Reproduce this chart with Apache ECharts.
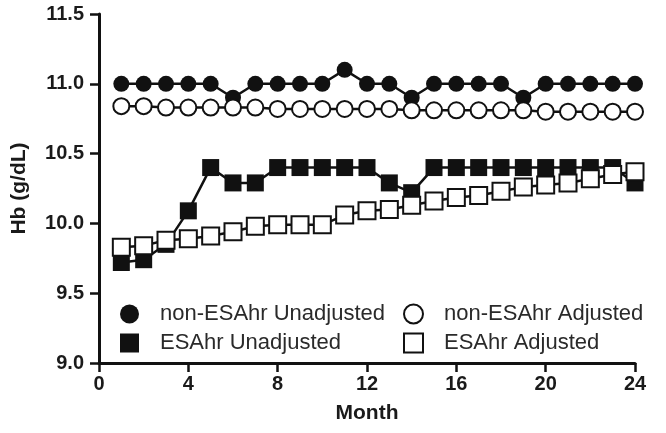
<!DOCTYPE html>
<html>
<head>
<meta charset="utf-8">
<script src="https://cdn.jsdelivr.net/npm/echarts@6/dist/echarts.min.js"></script>
<style>
html,body{margin:0;padding:0;background:#fff;}
#chart{width:666px;height:433px;}
</style>
</head>
<body>
<div id="chart"></div>
<script>
var months = [1,2,3,4,5,6,7,8,9,10,11,12,13,14,15,16,17,18,19,20,21,22,23,24];
var nonEsaUnadj = [11.0,11.0,11.0,11.0,11.0,10.9,11.0,11.0,11.0,11.0,11.1,11.0,11.0,10.9,11.0,11.0,11.0,11.0,10.9,11.0,11.0,11.0,11.0,11.0];
var nonEsaAdj = [10.84,10.84,10.83,10.83,10.83,10.83,10.83,10.82,10.82,10.82,10.82,10.82,10.82,10.81,10.81,10.81,10.81,10.81,10.81,10.80,10.80,10.80,10.80,10.80];
var esaUnadj = [9.72,9.74,9.85,10.09,10.40,10.29,10.29,10.40,10.40,10.40,10.40,10.40,10.29,10.22,10.40,10.40,10.40,10.40,10.40,10.40,10.40,10.40,10.40,10.29];
var esaAdj = [9.83,9.84,9.88,9.89,9.91,9.94,9.98,9.99,9.99,9.99,10.06,10.09,10.10,10.13,10.16,10.185,10.20,10.23,10.26,10.275,10.29,10.32,10.35,10.37];
var seriesNames = ['non-ESAhr Unadjusted','non-ESAhr Adjusted','ESAhr Unadjusted','ESAhr Adjusted'];
var xTicks = [0,4,8,12,16,20,24];
var yTicks = [9.0,9.5,10.0,10.5,11.0,11.5];

function pairs(vals){ return months.map(function(m,i){ return [m, vals[i]]; }); }

var FONT = '"Liberation Sans", Arial, Helvetica, sans-serif';
var filled = {color:'#111', borderColor:'#111', borderWidth:0};
var open = {color:'#fff', borderColor:'#111', borderWidth:2};

function mkSeries(name, vals, symbol, size, style){
  return {
    name: name, type:'line', data: pairs(vals),
    symbol: symbol, symbolSize: size, showAllSymbol:true,
    lineStyle:{color:'#111', width:2.5},
    itemStyle: style,
    emphasis:{disabled:true},
    animation:false
  };
}
function mkLegend(name, icon, style, left, top){
  return {
    data:[{name:name, icon:icon, itemStyle:style}],
    left:left, top:top, padding:0,
    itemWidth:19, itemHeight:19,
    selectedMode:false,
    textStyle:{fontFamily:FONT, fontSize:22, color:'#2a2a2a', padding:[0,0,0,16]}
  };
}

var chart = echarts.init(document.getElementById('chart'), null, {renderer:'canvas'});
chart.setOption({
  backgroundColor:'#fff',
  animation:false,
  grid:{left:99, right:31, top:14, bottom:70, containLabel:false},
  legend:[
    mkLegend(seriesNames[0], 'circle', filled, 120, 303),
    mkLegend(seriesNames[1], 'circle', {color:'#fff', borderColor:'#111', borderWidth:2}, 403, 303),
    mkLegend(seriesNames[2], 'rect', filled, 120, 332),
    mkLegend(seriesNames[3], 'rect', {color:'#fff', borderColor:'#111', borderWidth:2}, 403, 332)
  ],
  xAxis:{
    type:'value', min:xTicks[0], max:xTicks[xTicks.length-1], interval:4,
    name:'Month', nameLocation:'middle', nameGap:40,
    nameTextStyle:{fontFamily:FONT, fontSize:21, fontWeight:'bold', color:'#1a1a1a'},
    axisLine:{show:true, lineStyle:{color:'#111', width:3}},
    axisTick:{show:true, length:9, lineStyle:{color:'#111', width:2.5}},
    axisLabel:{fontFamily:FONT, fontSize:20, fontWeight:'bold', color:'#1a1a1a', margin:11},
    splitLine:{show:false}
  },
  yAxis:{
    type:'value', min:yTicks[0], max:yTicks[yTicks.length-1], interval:0.5,
    name:'Hb (g/dL)', nameLocation:'middle', nameGap:69, nameRotate:90,
    nameTextStyle:{fontFamily:FONT, fontSize:21, fontWeight:'bold', color:'#1a1a1a'},
    axisLine:{show:true, lineStyle:{color:'#111', width:3}},
    axisTick:{show:true, length:9, lineStyle:{color:'#111', width:2.5}},
    axisLabel:{fontFamily:FONT, fontSize:20, fontWeight:'bold', color:'#1a1a1a', margin:15,
      formatter:function(v){ return v.toFixed(1); }},
    splitLine:{show:false}
  },
  series:[
    mkSeries(seriesNames[0], nonEsaUnadj, 'circle', 16, filled),
    mkSeries(seriesNames[1], nonEsaAdj, 'circle', 16, open),
    mkSeries(seriesNames[2], esaUnadj, 'rect', 17, filled),
    mkSeries(seriesNames[3], esaAdj, 'rect', 17, open)
  ]
});
</script>
</body>
</html>
